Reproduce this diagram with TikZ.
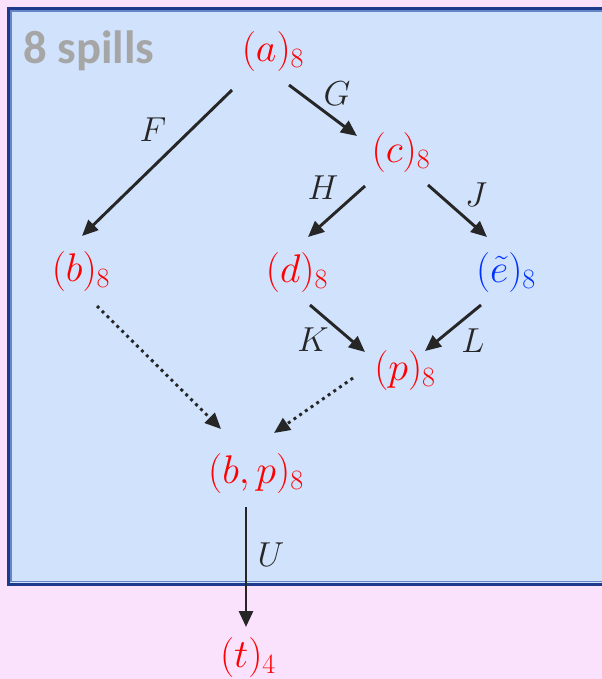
\RequirePackage{fix-cm}
\documentclass[tikz,border=0pt]{standalone}
\usepackage{fontspec}
\newfontfamily\spillfont{Carlito}
\usetikzlibrary{arrows.meta,calc}

\definecolor{pinkbg}{RGB}{250,226,252}
\definecolor{boxblue}{RGB}{209,226,252}
\definecolor{navyline}{RGB}{30,58,140}
\definecolor{lightline}{RGB}{100,134,200}
\definecolor{arrowgray}{RGB}{38,38,38}
\definecolor{spillgray}{RGB}{166,166,166}
\definecolor{eblue}{RGB}{0,51,255}

\tikzset{every picture/.style={line width=0.75pt}}

\begin{document}
\begin{tikzpicture}[x=0.75pt,y=0.75pt,yscale=-1,xscale=1,
  state/.style={inner sep=0pt,text=red,font=\fontsize{30}{36}\selectfont},
  lbl/.style={inner sep=0pt,text=arrowgray,font=\fontsize{26}{30}\selectfont},
  edge/.style={color=arrowgray,line width=2.2pt,-{Triangle[length=12pt,width=10.5pt]}},
  dotedge/.style={edge,dash pattern=on 2.2pt off 3pt}]
%set diagram left start at 0, and has height of 679
\clip (0,0) rectangle (602,679);

%Shape: Rectangle (background)
\fill [pinkbg] (0,0) rectangle (602,679);
%Shape: Rectangle (spill region)
\draw [draw=navyline,line width=2pt,fill=boxblue] (8.25,8.25) rectangle (640,584.5);
\draw [draw=lightline,line width=1.1pt] (11,11) rectangle (640,581.5);

% Text Node
\node [anchor=base west,inner sep=0pt,text=spillgray,font=\spillfont\bfseries\fontsize{35}{40}\selectfont] (spills) at (23,63) {8 spills};

% State Nodes
\node [state] (a) at (273,51) {$(a)_8$};
\node [state] (b) at (81,271) {$(b)_8$};
\node [state] (c) at (401,152) {$(c)_8$};
\node [state] (d) at (297,272) {$(d)_8$};
\node [state,text=eblue] (e) at (506,272) {$(\tilde{e})_8$};
\node [state] (p) at (405,370) {$(p)_8$};
\node [state] (bp) at (256,473) {$(b,p)_8$};
\node [state] (t) at (248,657) {$(t)_4$};

%Straight Lines
\draw [edge] ($(a)+(-41,39)$) -- ($(b)+(1,-35)$);
\draw [edge] ($(a)+(16,34)$) -- ($(c)+(-44,-16)$);
\draw [edge] ($(c)+(-36,34)$) -- ($(d)+(11,-35)$);
\draw [edge] ($(c)+(27,33)$) -- ($(e)+(-19,-35)$);
\draw [edge] ($(d)+(13,33)$) -- ($(p)+(-40,-18)$);
\draw [edge] ($(e)+(-25,33)$) -- ($(p)+(20,-19)$);
\draw [dotedge] ($(b)+(16,35)$) -- ($(bp)+(-35,-44)$);
\draw [dotedge] ($(p)+(-52,8)$) -- ($(bp)+(18,-40)$);
\draw [edge] ($(bp)+(-10,34)$) -- ($(t)+(-2,-30)$);

% Text Node
\node [lbl] (lF) at (153,130) {$F$};
\node [lbl] (lG) at (337,94) {$G$};
\node [lbl] (lH) at (323,188) {$H$};
\node [lbl] (lJ) at (476,195) {$J$};
\node [lbl] (lK) at (313,340) {$K$};
\node [lbl] (lL) at (473,341) {$L$};
\node [lbl] (lU) at (271,555) {$U$};

\end{tikzpicture}
\end{document}
